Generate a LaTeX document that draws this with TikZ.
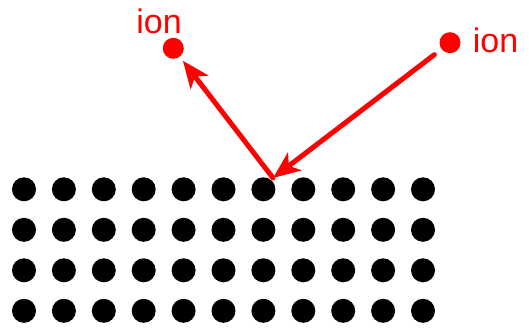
\documentclass[tikz,border=0pt]{standalone}
\usepackage{fontspec}
\setmainfont{Liberation Sans}
\usepackage{tikz}
\usetikzlibrary{arrows.meta,positioning}
\definecolor{ionred}{HTML}{FF0000}

\tikzset{
  atom/.style={circle,fill=black,minimum size=24pt,inner sep=0pt},
  ion/.style={circle,fill=ionred,minimum size=21pt,inner sep=0pt},
  ionlabel/.style={text=ionred,anchor=base,inner sep=0pt,font=\fontsize{34}{38}\selectfont},
  path/.style={draw=ionred,line width=5pt,line cap=round,
    -{Stealth[length=27pt,width=22pt,inset=7pt]}}
}

\begin{document}
\begin{tikzpicture}[x=1pt,y=-1pt]
  \useasboundingbox (0,0) rectangle (529,332);

  % lattice of atoms
  \foreach \i in {0,...,10}
    \foreach \j in {0,...,3}
      \node[atom] (a-\i-\j) at ({24+39.9*\i},{189.3+40.5*\j}) {};

  % incoming and scattered ion
  \node[ion] (ionin) at (450,42.7) {};
  \node[ion] (ionout) at (173.3,48.3) {};
  \node[ionlabel] (labin) at (495.5,52.7) {ion};
  \node[ionlabel] (labout) at (159,33) {ion};

  \coordinate (hit) at (273,178);
  \draw[path,shorten <=9pt] (ionin) -- (hit);
  \draw[path,shorten >=5pt] (hit) -- (ionout);
\end{tikzpicture}
\end{document}
